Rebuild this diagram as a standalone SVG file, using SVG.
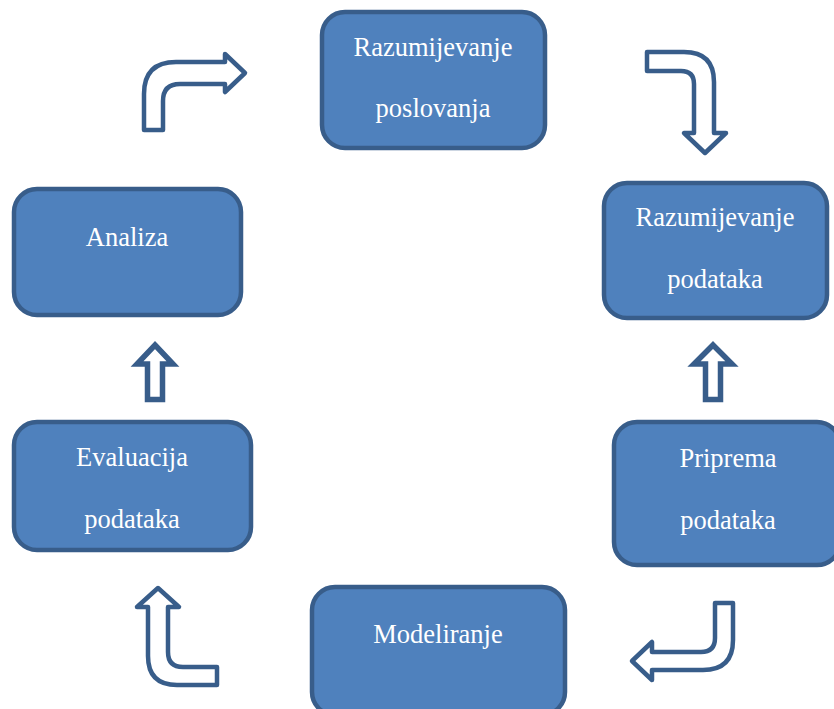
<svg xmlns="http://www.w3.org/2000/svg" width="834" height="709" viewBox="0 0 834 709">
<style>
.box{fill:#4F81BD;stroke:#385D8A;stroke-width:4.5}
.lbl{font-family:"Liberation Serif","Times New Roman",serif;font-size:26.5px;fill:#FFFFFF;text-anchor:middle}
.arr{fill:#FFFFFF;stroke:#385D8A;stroke-width:4.5;stroke-linejoin:round}
.arr2{fill:#FFFFFF;stroke:#385D8A;stroke-width:5.5;stroke-linejoin:miter}
</style>
<rect width="834" height="709" fill="#FFFFFF"/>
<g id="connectors">
<path class="arr" d="M144 130 L144 94 Q144 62 176 62 L225 62 L225 54 L245 73 L225 92 L225 84 L180 84 Q163 84 163 101 L163 130 Z"/>
<path class="arr" d="M647 52 L684 52 Q714 52 714 82 L714 133 L726 133 L705 153 L684 133 L694 133 L694 84 Q694 71 681 71 L647 71 Z"/>
<path class="arr" d="M715 603 L733 603 L733 640 Q733 670 703 670 L652 670 L652 680 L632 661 L652 642 L652 652 L701 652 Q715 652 715 638 Z"/>
<path class="arr" d="M158 588 L179 607 L168 607 L168 652 Q168 667 183 667 L217 667 L217 685 L177 685 Q148 685 148 656 L148 607 L137 607 Z"/>
<path class="arr2" d="M155 345 L173 364 L162.5 364 L162.5 399.5 L147.5 399.5 L147.5 364 L137 364 Z"/>
<path class="arr2" d="M713 345 L732 364 L720.5 364 L720.5 399.5 L705.5 399.5 L705.5 364 L694 364 Z"/>
</g>
<g id="node-razumijevanje-poslovanja">
<rect class="box" x="322" y="12" width="223" height="136" rx="23"/>
<text class="lbl" x="433" y="56">Razumijevanje</text>
<text class="lbl" x="433" y="117">poslovanja</text>
</g>
<g id="node-razumijevanje-podataka">
<rect class="box" x="604" y="183" width="223" height="135" rx="23"/>
<text class="lbl" x="715" y="226">Razumijevanje</text>
<text class="lbl" x="715" y="288">podataka</text>
</g>
<g id="node-analiza">
<rect class="box" x="14" y="189" width="227" height="126" rx="23"/>
<text class="lbl" x="127" y="246">Analiza</text>
</g>
<g id="node-evaluacija">
<rect class="box" x="14" y="422" width="237" height="128" rx="23"/>
<text class="lbl" x="132" y="466">Evaluacija</text>
<text class="lbl" x="132" y="528">podataka</text>
</g>
<g id="node-priprema">
<rect class="box" x="614" y="422" width="226" height="143" rx="23"/>
<text class="lbl" x="728" y="467">Priprema</text>
<text class="lbl" x="728" y="529">podataka</text>
</g>
<g id="node-modeliranje">
<rect class="box" x="312" y="587" width="253" height="128" rx="23"/>
<text class="lbl" x="438" y="643">Modeliranje</text>
</g>
</svg>
